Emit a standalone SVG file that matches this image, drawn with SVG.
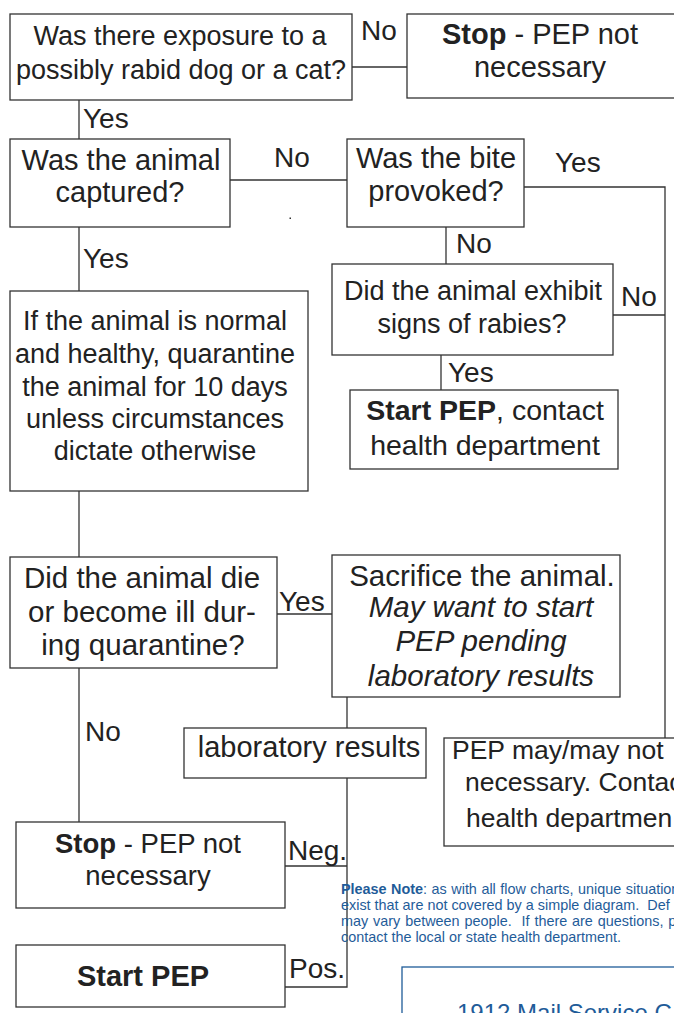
<svg xmlns="http://www.w3.org/2000/svg" width="674" height="1013" viewBox="0 0 674 1013">
<style>
.box{fill:#fff;stroke:#333;stroke-width:1.3}
.ln{fill:none;stroke:#333;stroke-width:1.3}
text{font-family:"Liberation Sans",Arial,sans-serif;fill:#222}
.t{text-anchor:middle}
.lab{font-size:28px}
.b{font-weight:bold}
.i{font-style:italic}
.note{font-size:14.4px;fill:#1f5c99;white-space:pre}
.blue{fill:none;stroke:#1f5c99;stroke-width:1.3}
</style>
<rect width="674" height="1013" fill="#fff"/>
<g id="connectors">
<path class="ln" d="M352 67H407"/>
<path class="ln" d="M79 100V139"/>
<path class="ln" d="M230 180H347"/>
<path class="ln" d="M524 187H665V738"/>
<path class="ln" d="M446 227V264"/>
<path class="ln" d="M613 315H665"/>
<path class="ln" d="M441 355V390"/>
<path class="ln" d="M79 227V291"/>
<path class="ln" d="M79 491V557"/>
<path class="ln" d="M277 614H332"/>
<path class="ln" d="M347 697V728"/>
<path class="ln" d="M347 778V987H285"/>
<path class="ln" d="M285 866H347"/>
<path class="ln" d="M79 668V822"/>
<rect x="289.5" y="217.5" width="1.5" height="1.5" fill="#333"/>
<text class="lab" x="361" y="40">No</text>
<text class="lab" x="83" y="128">Yes</text>
<text class="lab" x="274" y="167">No</text>
<text class="lab" x="555" y="172">Yes</text>
<text class="lab" x="456" y="253">No</text>
<text class="lab" x="621" y="306">No</text>
<text class="lab" x="448" y="382">Yes</text>
<text class="lab" x="83" y="268">Yes</text>
<text class="lab" x="279" y="611">Yes</text>
<text class="lab" x="85" y="741">No</text>
<text class="lab" x="288" y="860">Neg.</text>
<text class="lab" x="289" y="978">Pos.</text>
</g>
<g id="n1" font-size="27"><rect class="box" x="10" y="14" width="342" height="86"/>
<text class="t" x="180" y="45">Was there exposure to a</text>
<text class="t" x="181" y="79">possibly rabid dog or a cat?</text></g>
<g id="n2" font-size="29"><rect class="box" x="407" y="14" width="280" height="84"/>
<text class="t" x="540" y="44"><tspan class="b">Stop</tspan> - PEP not</text>
<text class="t" x="540" y="77">necessary</text></g>
<g id="n3" font-size="29"><rect class="box" x="10" y="139" width="220" height="88"/>
<text class="t" x="121" y="170">Was the animal</text>
<text class="t" x="120" y="202">captured?</text></g>
<g id="n4" font-size="29"><rect class="box" x="347" y="139" width="177" height="88"/>
<text class="t" x="436" y="168">Was the bite</text>
<text class="t" x="436" y="201">provoked?</text></g>
<g id="n5" font-size="27"><rect class="box" x="332" y="264" width="281" height="91"/>
<text class="t" x="473" y="300">Did the animal exhibit</text>
<text class="t" x="472" y="333">signs of rabies?</text></g>
<g id="n6" font-size="28.5"><rect class="box" x="350" y="390" width="268" height="79"/>
<text class="t" x="485" y="420"><tspan class="b">Start PEP</tspan>, contact</text>
<text class="t" x="485" y="455">health department</text></g>
<g id="n7" font-size="27"><rect class="box" x="10" y="291" width="298" height="200"/>
<text class="t" x="155" y="330">If the animal is normal</text>
<text class="t" x="155" y="363">and healthy, quarantine</text>
<text class="t" x="155" y="396">the animal for 10 days</text>
<text class="t" x="155" y="428">unless circumstances</text>
<text class="t" x="155" y="460">dictate otherwise</text></g>
<g id="n8" font-size="29.5"><rect class="box" x="10" y="557" width="267" height="111"/>
<text class="t" x="142" y="588">Did the animal die</text>
<text class="t" x="142" y="622">or become ill dur-</text>
<text class="t" x="143" y="655">ing quarantine?</text></g>
<g id="n9" font-size="29.5"><rect class="box" x="332" y="555" width="288" height="142"/>
<text class="t" x="482" y="586">Sacrifice the animal.</text>
<text class="t i" x="481" y="617">May want to start</text>
<text class="t i" x="481" y="651">PEP pending</text>
<text class="t i" x="481" y="686">laboratory results</text></g>
<g id="n10" font-size="29"><rect class="box" x="184" y="728" width="242" height="50"/>
<text class="t" x="309" y="757">laboratory results</text></g>
<g id="n11" font-size="26.5"><rect class="box" x="444" y="738" width="250" height="108"/>
<text x="452" y="759">PEP may/may not</text>
<text x="465" y="791">necessary. Contac</text>
<text x="466" y="827">health departmen</text></g>
<g id="n12" font-size="27.5"><rect class="box" x="16" y="822" width="269" height="86"/>
<text class="t" x="148" y="853"><tspan class="b">Stop</tspan> - PEP not</text>
<text class="t" x="148" y="885">necessary</text></g>
<g id="n13" font-size="29"><rect class="box" x="16" y="945" width="269" height="62"/>
<text class="t b" x="143" y="986">Start PEP</text></g>
<g id="note">
<text class="note" x="341" y="894" word-spacing="0.5"><tspan font-weight="bold">Please Note</tspan>: as with all flow charts, unique situation</text>
<text class="note" x="341" y="910">exist that are not covered by a simple diagram.  Def</text>
<text class="note" x="341" y="926" word-spacing="0.9">may vary between people.  If there are questions, p</text>
<text class="note" x="341" y="942">contact the local or state health department.</text>
</g>
<g id="addr"><rect class="blue" x="402" y="967" width="300" height="80"/>
<text x="457" y="1021" font-size="24" style="fill:#1f5c99">1912 Mail Service C</text></g>
</svg>
